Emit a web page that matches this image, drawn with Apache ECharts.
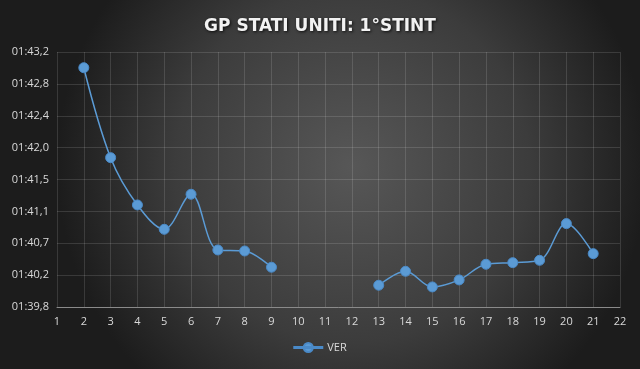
<!DOCTYPE html>
<html>
<head>
<meta charset="utf-8">
<script src="https://cdn.jsdelivr.net/npm/echarts@6/dist/echarts.min.js"></script>
<style>
html,body{margin:0;padding:0;background:#2a2a2a;}
#c{width:640px;height:369px;}
</style>
</head>
<body>
<div id="c"></div>
<script>
// Lap numbers
var laps = [2,3,4,5,6,7,8,9,10,11,12,13,14,15,16,17,18,19,20,21];
// Lap times in seconds (null = no data)
var verTimes = [103.035,101.816,101.175,100.845,101.32,100.565,100.551,100.331,null,null,null,100.087,100.276,100.064,100.159,100.371,100.393,100.425,100.922,100.515];
var seriesName = 'VER';
var titleText = 'GP STATI UNITI: 1°STINT';
var yMin = 99.792, yMax = 103.248, yStep = 0.432;
var xMin = 1, xMax = 22;

function fmtTime(v){
  var m = Math.floor(v/60 + 1e-9);
  var s = v - m*60;
  var str = s.toFixed(1);
  if (s < 10) str = '0' + str;
  return (m < 10 ? '0' + m : '' + m) + ':' + str.replace('.', ',');
}

var data = laps.map(function(l, i){ return [l, verTimes[i]]; });

var chart = echarts.init(document.getElementById('c'));
chart.setOption({
  backgroundColor: {
    type: 'radial', x: 0.55, y: 0.45, r: 0.8,
    colorStops: [{offset: 0, color: '#575757'}, {offset: 0.6, color: '#3c3c3c'}, {offset: 1, color: '#1c1c1c'}]
  },
  animation: false,
  title: {
    text: titleText, left: 'center', top: 13,
    textStyle: {color: '#f2f2f2', fontSize: 17, fontWeight: 'bold', fontFamily: 'DejaVu Sans',
      textShadowColor: 'rgba(0,0,0,0.8)', textShadowBlur: 3, textShadowOffsetX: 1, textShadowOffsetY: 1}
  },
  grid: {left: 57, right: 20, top: 52, bottom: 62},
  legend: {
    bottom: 11, left: 'center', itemWidth: 28, itemHeight: 10, itemGap: 4,
    icon: 'circle',
    textStyle: {color: '#d9d9d9', fontSize: 11, fontFamily: 'Open Sans'},
    data: [{name: seriesName, icon: 'path://M0,4.5H28V5.5H0Z M14,0.5A4.5,4.5 0 1 1 13.99,0.5Z'}]
  },
  xAxis: {
    type: 'value', min: xMin, max: xMax, interval: 1,
    axisLine: {show: true, lineStyle: {color: '#8a8a8a', width: 1}},
    axisTick: {show: false},
    splitLine: {show: true, lineStyle: {color: 'rgba(255,255,255,0.13)', width: 1}},
    axisLabel: {color: '#d9d9d9', fontSize: 11, fontFamily: 'Open Sans', margin: 9}
  },
  yAxis: {
    type: 'value', min: yMin, max: yMax, interval: yStep,
    axisLine: {show: false},
    axisTick: {show: false},
    splitLine: {show: true, lineStyle: {color: 'rgba(255,255,255,0.13)', width: 1}},
    axisLabel: {color: '#d9d9d9', fontSize: 11, fontFamily: 'Open Sans', margin: 8,
      formatter: function(v){ return fmtTime(v); }}
  },
  series: [{
    name: seriesName, type: 'line', data: data, smooth: 0.35, connectNulls: false,
    symbol: 'circle', symbolSize: 10,
    lineStyle: {color: '#5b9bd5', width: 1.5},
    itemStyle: {color: '#5b9bd5', borderColor: '#4a8ac8', borderWidth: 1}
  }]
});
</script>
</body>
</html>
